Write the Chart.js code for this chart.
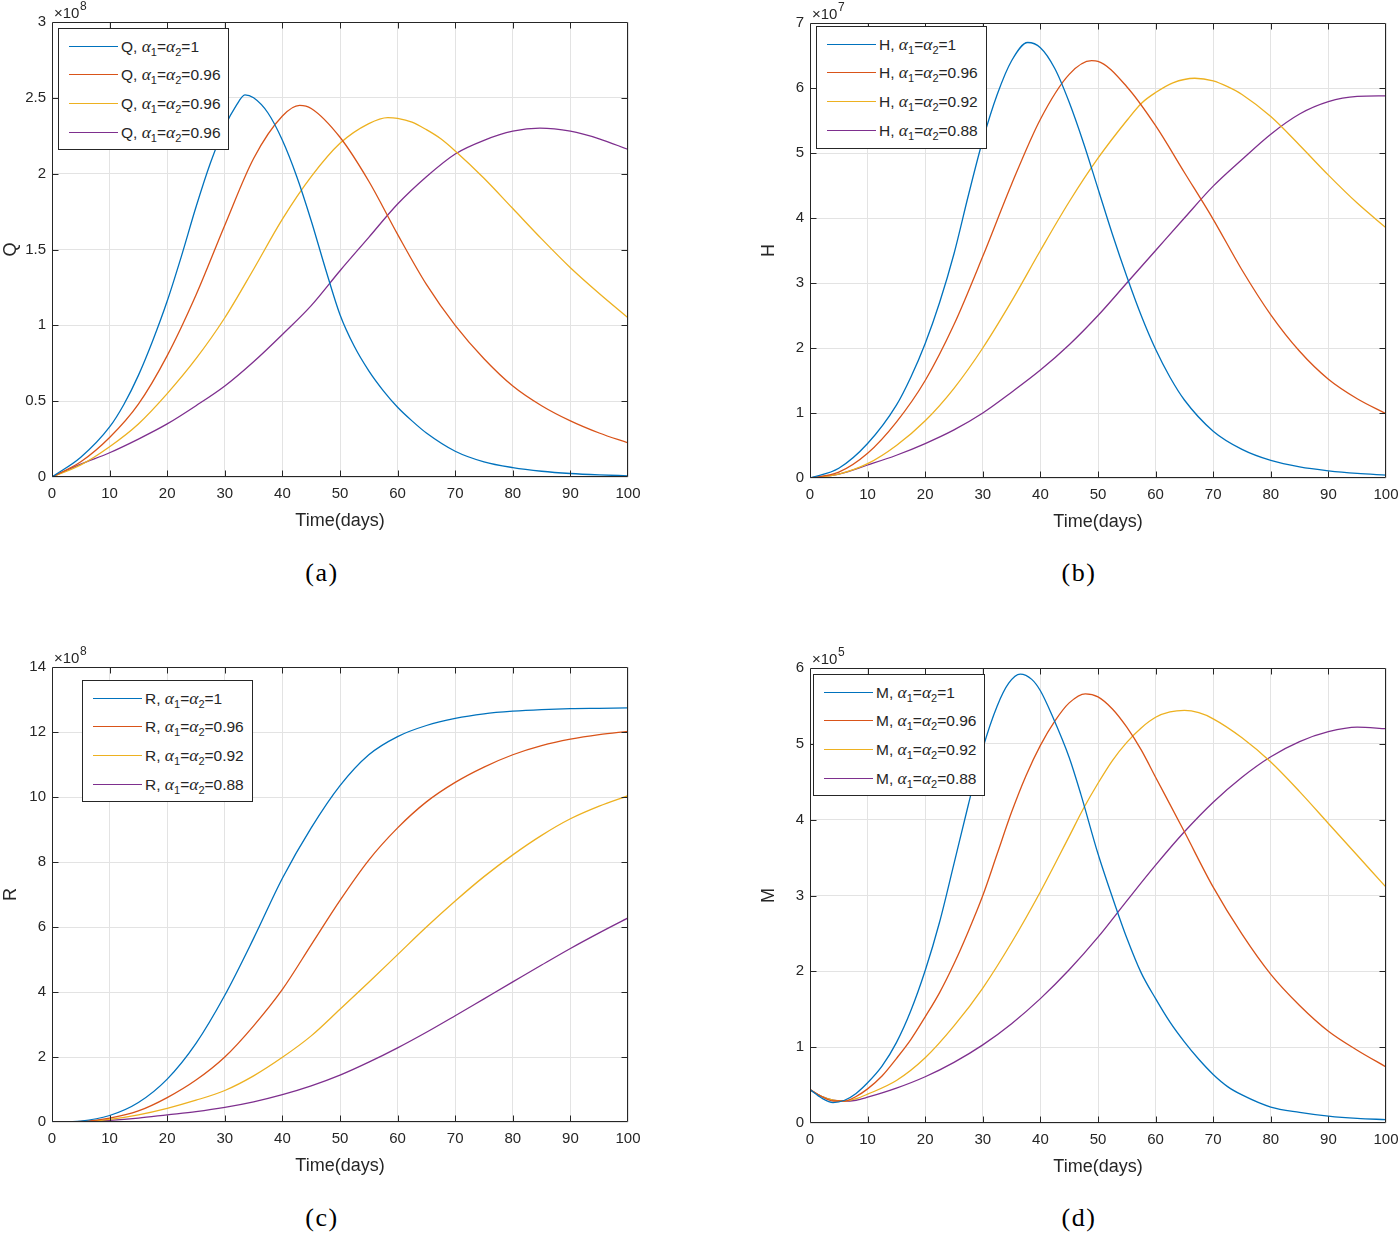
<!DOCTYPE html>
<html>
<head>
<meta charset="utf-8">
<script src="https://cdn.jsdelivr.net/npm/chart.js@4.4.1/dist/chart.umd.min.js"></script>
<style>
  body { margin: 0; width: 1398px; height: 1234px; background: #fff; overflow: hidden; position: relative;
         font-family: 'Liberation Sans', Arial, sans-serif; color: #262626; }
  .panel { position: absolute; }
  .lg { position: absolute; border: 1px solid #262626; background: #fff; font-size: 15.5px; box-sizing: border-box; }
  .lg-row { position: absolute; left: 0; height: 20px; width: 100%; white-space: nowrap; }
  .lg-line { position: absolute; left: 10px; width: 49px; top: 10px; height: 0; border-top: 1.3px solid; }
  .lg-txt { position: absolute; left: 62px; top: 0; line-height: 20px; }
  .al { font-family: 'Liberation Serif', serif; font-style: italic; font-size: 17.5px; }
  .sb { font-size: 11px; position: relative; top: 4px; }
  .cap { position: absolute; font-family: 'Liberation Serif', serif; font-size: 26px; letter-spacing: 1.5px;
         transform: translate(-50%, -50%); color: #000; }
</style>
</head>
<body>

<canvas id="cQ" class="panel" width="660" height="540" style="left:0;top:0"></canvas>
<canvas id="cH" class="panel" width="660" height="540" style="left:758px;top:1px"></canvas>
<canvas id="cR" class="panel" width="660" height="540" style="left:0;top:645px"></canvas>
<canvas id="cM" class="panel" width="660" height="540" style="left:758px;top:646px"></canvas>

<div id="lgQ" class="lg" style="left:58px;top:28px;width:171px;height:122px"></div>
<div id="lgH" class="lg" style="left:816px;top:26px;width:171px;height:123px"></div>
<div id="lgR" class="lg" style="left:82px;top:680px;width:171px;height:122px"></div>
<div id="lgM" class="lg" style="left:813px;top:674px;width:172px;height:122px"></div>

<div class="cap" style="left:322px;top:573px">(a)</div>
<div class="cap" style="left:1079px;top:573px">(b)</div>
<div class="cap" style="left:322px;top:1218px">(c)</div>
<div class="cap" style="left:1079px;top:1218px">(d)</div>

<script>
// ── 색상 (MATLAB 기본) ──
var colors = ['#0072BD', '#D95319', '#EDB120', '#7E2F8E'];

// ── 범례 라벨 (alpha 값) ──
var qAlphas = ['1', '0.96', '0.96', '0.96'];
var hAlphas = ['1', '0.96', '0.92', '0.88'];
var rAlphas = ['1', '0.96', '0.92', '0.88'];
var mAlphas = ['1', '0.96', '0.92', '0.88'];

// ── (a) Q, 단위 x10^8 ──
var qT1 = [0, 5, 10, 12.5, 15, 17.5, 20, 22.5, 25, 27.5, 30, 32, 33.5, 35, 37.5, 40, 42.5, 45, 47.5, 50, 52.5, 55, 57.5, 60, 62.5, 65, 70, 75, 80, 85, 90, 95, 100];
var qV1 = [0, 0.13, 0.33, 0.48, 0.67, 0.9, 1.16, 1.46, 1.78, 2.07, 2.31, 2.45, 2.52, 2.5, 2.4, 2.22, 1.98, 1.69, 1.37, 1.07, 0.86, 0.7, 0.57, 0.46, 0.37, 0.29, 0.17, 0.1, 0.062, 0.038, 0.023, 0.014, 0.008];
var qT2 = [0, 5, 10, 15, 20, 25, 30, 35, 40, 43, 45, 50, 55, 60, 65, 70, 75, 80, 85, 90, 95, 100];
var qV2 = [0, 0.1, 0.26, 0.48, 0.8, 1.2, 1.66, 2.1, 2.38, 2.45, 2.43, 2.24, 1.95, 1.6, 1.27, 1.0, 0.78, 0.6, 0.47, 0.37, 0.29, 0.225];
var qT3 = [0, 5, 10, 15, 20, 25, 30, 35, 40, 45, 50, 55, 58.3, 60, 62.5, 65, 67.5, 70, 75, 80, 85, 90, 95, 100];
var qV3 = [0, 0.08, 0.2, 0.35, 0.55, 0.78, 1.05, 1.37, 1.7, 1.98, 2.2, 2.33, 2.37, 2.365, 2.34, 2.29, 2.23, 2.15, 1.97, 1.77, 1.57, 1.38, 1.21, 1.05];
var qT4 = [0, 5, 10, 15, 20, 25, 30, 35, 40, 45, 50, 55, 60, 65, 70, 75, 80, 84.7, 90, 95, 100];
var qV4 = [0, 0.085, 0.16, 0.25, 0.35, 0.47, 0.6, 0.76, 0.94, 1.13, 1.36, 1.58, 1.8, 1.98, 2.13, 2.22, 2.28, 2.3, 2.28, 2.23, 2.16];

// ── (b) H, 단위 x10^7 ──
var hT1 = [0, 5, 10, 15, 17.5, 20, 22.5, 25, 27.5, 30, 32.5, 35, 37.8, 40, 42.5, 45, 47.5, 50, 52.5, 55, 57.5, 60, 62.5, 65, 70, 75, 80, 85, 90, 95, 100];
var hV1 = [0, 0.15, 0.53, 1.12, 1.55, 2.07, 2.7, 3.45, 4.35, 5.2, 5.9, 6.42, 6.7, 6.62, 6.3, 5.78, 5.15, 4.45, 3.75, 3.1, 2.5, 1.98, 1.55, 1.2, 0.72, 0.44, 0.27, 0.17, 0.11, 0.07, 0.045];
var hT2 = [0, 5, 10, 15, 20, 25, 30, 35, 40, 45, 48.9, 50, 55, 60, 65, 70, 75, 80, 85, 90, 95, 100];
var hV2 = [0, 0.09, 0.38, 0.86, 1.5, 2.36, 3.41, 4.52, 5.52, 6.21, 6.42, 6.41, 6.02, 5.42, 4.7, 3.98, 3.2, 2.51, 1.95, 1.52, 1.22, 0.99];
var hT3 = [0, 5, 10, 15, 20, 25, 30, 35, 40, 45, 50, 55, 57.6, 60, 63, 66.8, 70, 72.5, 75, 80, 85, 90, 95, 100];
var hV3 = [0, 0.06, 0.22, 0.5, 0.88, 1.38, 2.0, 2.72, 3.5, 4.25, 4.92, 5.5, 5.77, 5.93, 6.08, 6.15, 6.11, 6.02, 5.9, 5.56, 5.12, 4.66, 4.23, 3.85];
var hT4 = [0, 5, 10, 15, 20, 25, 30, 35, 40, 45, 50, 55, 60, 65, 70, 75, 80, 85, 90, 95, 100];
var hV4 = [0, 0.06, 0.2, 0.35, 0.53, 0.74, 1.0, 1.32, 1.66, 2.05, 2.5, 3.0, 3.5, 4.0, 4.49, 4.9, 5.29, 5.6, 5.79, 5.87, 5.88];

// ── (c) R, 단위 x10^8 ──
var rT = [0, 5, 10, 15, 20, 25, 30, 35, 40, 45, 50, 55, 60, 65, 70, 75, 80, 85, 90, 95, 100];
var rV1 = [0, 0.03, 0.2, 0.6, 1.32, 2.42, 3.9, 5.65, 7.5, 9.05, 10.35, 11.3, 11.86, 12.2, 12.42, 12.56, 12.64, 12.69, 12.72, 12.73, 12.74];
var rV2 = [0, 0.02, 0.12, 0.34, 0.75, 1.29, 2.0, 2.96, 4.08, 5.45, 6.82, 8.06, 9.05, 9.85, 10.45, 10.92, 11.3, 11.58, 11.78, 11.92, 12.02];
var rV3 = [0, 0.01, 0.08, 0.22, 0.42, 0.67, 0.97, 1.42, 1.99, 2.65, 3.47, 4.3, 5.15, 6.0, 6.8, 7.55, 8.22, 8.82, 9.33, 9.72, 10.04];
var rV4 = [0, 0.01, 0.05, 0.12, 0.22, 0.32, 0.45, 0.62, 0.84, 1.11, 1.44, 1.84, 2.28, 2.76, 3.27, 3.79, 4.31, 4.83, 5.34, 5.82, 6.28];

// ── (d) M, 단위 x10^5 ──
var mT1 = [0, 2, 4, 6, 8, 10, 12.5, 15, 17.5, 20, 22.5, 25, 27.5, 30, 32.5, 34.5, 36.5, 38.5, 40, 42, 45, 47, 50, 53.3, 55, 57.5, 60, 62.5, 65, 67.5, 70, 72.5, 75, 80, 85, 90, 95, 100];
var mV1 = [0.44, 0.33, 0.27, 0.3, 0.39, 0.53, 0.75, 1.06, 1.48, 2.01, 2.65, 3.42, 4.2, 4.94, 5.5, 5.8, 5.92, 5.85, 5.7, 5.38, 4.82, 4.34, 3.55, 2.8, 2.44, 1.98, 1.64, 1.33, 1.07, 0.84, 0.64, 0.48, 0.37, 0.21, 0.14, 0.09, 0.06, 0.045];
var mT2 = [0, 2, 4, 6, 8, 10, 12.5, 15, 17.5, 20, 22.5, 25, 27.5, 30, 32.5, 35, 37.5, 40, 42.5, 45, 47.8, 50, 52.5, 55, 57.5, 60, 65, 70, 75, 80, 85, 90, 95, 100];
var mV2 = [0.44, 0.35, 0.29, 0.29, 0.35, 0.45, 0.62, 0.85, 1.1, 1.4, 1.72, 2.1, 2.53, 3.0, 3.55, 4.1, 4.58, 4.98, 5.3, 5.54, 5.66, 5.62, 5.46, 5.22, 4.92, 4.56, 3.84, 3.11, 2.49, 1.96, 1.55, 1.21, 0.96, 0.74];
var mT3 = [0, 2, 4, 6, 8, 10, 15, 20, 25, 30, 35, 40, 45, 47.5, 50, 52.5, 55, 57.5, 60, 62.5, 65, 67.5, 70, 75, 80, 85, 90, 95, 100];
var mV3 = [0.44, 0.35, 0.3, 0.29, 0.32, 0.38, 0.56, 0.86, 1.28, 1.78, 2.38, 3.05, 3.78, 4.15, 4.48, 4.78, 5.02, 5.21, 5.35, 5.42, 5.44, 5.41, 5.33, 5.08, 4.76, 4.37, 3.95, 3.53, 3.11];
var mT4 = [0, 2, 4, 6, 8, 10, 15, 20, 25, 30, 35, 40, 45, 50, 55, 60, 65, 70, 75, 80, 85, 90, 95, 100];
var mV4 = [0.44, 0.35, 0.3, 0.285, 0.3, 0.34, 0.46, 0.61, 0.8, 1.03, 1.31, 1.64, 2.02, 2.45, 2.93, 3.4, 3.84, 4.23, 4.56, 4.83, 5.03, 5.16, 5.22, 5.2];

Chart.defaults.font.family = "'Liberation Sans', Arial, sans-serif";
Chart.defaults.color = '#262626';

// ── 축 박스 + 안쪽 눈금 + 지수 표시 ──
var framePlugin = {
  id: 'frame',
  afterDraw: function(chart, args, opts) {
    var ctx = chart.ctx;
    var a = chart.chartArea;
    var xs = chart.scales.x, ys = chart.scales.y;
    var L = Math.round(a.left) + 0.5, R = Math.round(a.right) - 0.5;
    var T = Math.round(a.top) + 0.5, B = Math.round(a.bottom) - 0.5;
    ctx.save();
    ctx.strokeStyle = '#262626';
    ctx.lineWidth = 1;
    ctx.beginPath();
    ctx.rect(L, T, R - L, B - T);
    for (var i = 1; i < xs.ticks.length - 1; i++) {
      var px = Math.round(xs.getPixelForValue(xs.ticks[i].value)) + 0.5;
      ctx.moveTo(px, B); ctx.lineTo(px, B - 6);
      ctx.moveTo(px, T); ctx.lineTo(px, T + 6);
    }
    for (var j = 1; j < ys.ticks.length - 1; j++) {
      var py = Math.round(ys.getPixelForValue(ys.ticks[j].value)) + 0.5;
      ctx.moveTo(L, py); ctx.lineTo(L + 6, py);
      ctx.moveTo(R, py); ctx.lineTo(R - 6, py);
    }
    ctx.stroke();

    // x10^n
    ctx.fillStyle = '#262626';
    ctx.textBaseline = 'alphabetic';
    ctx.textAlign = 'left';
    ctx.font = "15px 'Liberation Sans', Arial, sans-serif";
    var base = '\u00d710';
    ctx.fillText(base, a.left + 2, a.top - 4);
    var w = ctx.measureText(base).width;
    ctx.font = "12px 'Liberation Sans', Arial, sans-serif";
    ctx.fillText(opts.exp, a.left + 2 + w + 0.5, a.top - 12);
    ctx.restore();
  }
};

function toPoints(ts, vs) {
  var pts = [];
  for (var i = 0; i < ts.length; i++) {
    pts.push({ x: ts[i], y: vs[i] });
  }
  return pts;
}

function makePanel(id, yLabel, yMax, yStep, exp, seriesT, seriesV) {
  var datasets = [];
  for (var i = 0; i < seriesV.length; i++) {
    datasets.push({
      data: toPoints(seriesT[i], seriesV[i]),
      borderColor: colors[i],
      borderWidth: 1.3,
      pointRadius: 0,
      fill: false,
      cubicInterpolationMode: 'monotone'
    });
  }
  new Chart(document.getElementById(id), {
    type: 'line',
    data: { datasets: datasets },
    plugins: [framePlugin],
    options: {
      responsive: false,
      animation: false,
      layout: { padding: { top: 22, right: 32, left: 0, bottom: 0 } },
      plugins: {
        legend: { display: false },
        tooltip: { enabled: false },
        frame: { exp: exp }
      },
      scales: {
        x: {
          type: 'linear', min: 0, max: 100,
          grid: { color: '#e3e3e3', drawTicks: false },
          border: { display: false },
          ticks: { stepSize: 10, padding: 8, color: '#262626', font: { size: 15 } },
          title: { display: true, text: 'Time(days)', color: '#262626', font: { size: 18 }, padding: { top: 0, bottom: 8 } },
          afterFit: function(s) { s.height = 63; }
        },
        y: {
          min: 0, max: yMax,
          grid: { color: '#e3e3e3', drawTicks: false },
          border: { display: false },
          ticks: {
            stepSize: yStep, padding: 6, color: '#262626', font: { size: 15 },
            callback: function(v) { return String(Math.round(v * 10) / 10); }
          },
          title: { display: true, text: yLabel, color: '#262626', font: { size: 18 }, padding: { top: 0, bottom: 0 } },
          afterFit: function(s) { s.width = 52; }
        }
      }
    }
  });
}

// ── 범례 ──
function renderLegend(elId, name, alphas) {
  var el = document.getElementById(elId);
  var html = '';
  for (var i = 0; i < alphas.length; i++) {
    var top = 6.5 + i * 28.8;
    html += '<div class="lg-row" style="top:' + top + 'px">' +
      '<div class="lg-line" style="border-color:' + colors[i] + '"></div>' +
      '<span class="lg-txt">' + name + ', <span class="al">\u03b1</span><span class="sb">1</span>=' +
      '<span class="al">\u03b1</span><span class="sb">2</span>=' + alphas[i] + '</span>' +
      '</div>';
  }
  el.innerHTML = html;
}

makePanel('cQ', 'Q', 3, 0.5, '8', [qT1, qT2, qT3, qT4], [qV1, qV2, qV3, qV4]);
makePanel('cH', 'H', 7, 1, '7', [hT1, hT2, hT3, hT4], [hV1, hV2, hV3, hV4]);
makePanel('cR', 'R', 14, 2, '8', [rT, rT, rT, rT], [rV1, rV2, rV3, rV4]);
makePanel('cM', 'M', 6, 1, '5', [mT1, mT2, mT3, mT4], [mV1, mV2, mV3, mV4]);

renderLegend('lgQ', 'Q', qAlphas);
renderLegend('lgH', 'H', hAlphas);
renderLegend('lgR', 'R', rAlphas);
renderLegend('lgM', 'M', mAlphas);
</script>
</body>
</html>
